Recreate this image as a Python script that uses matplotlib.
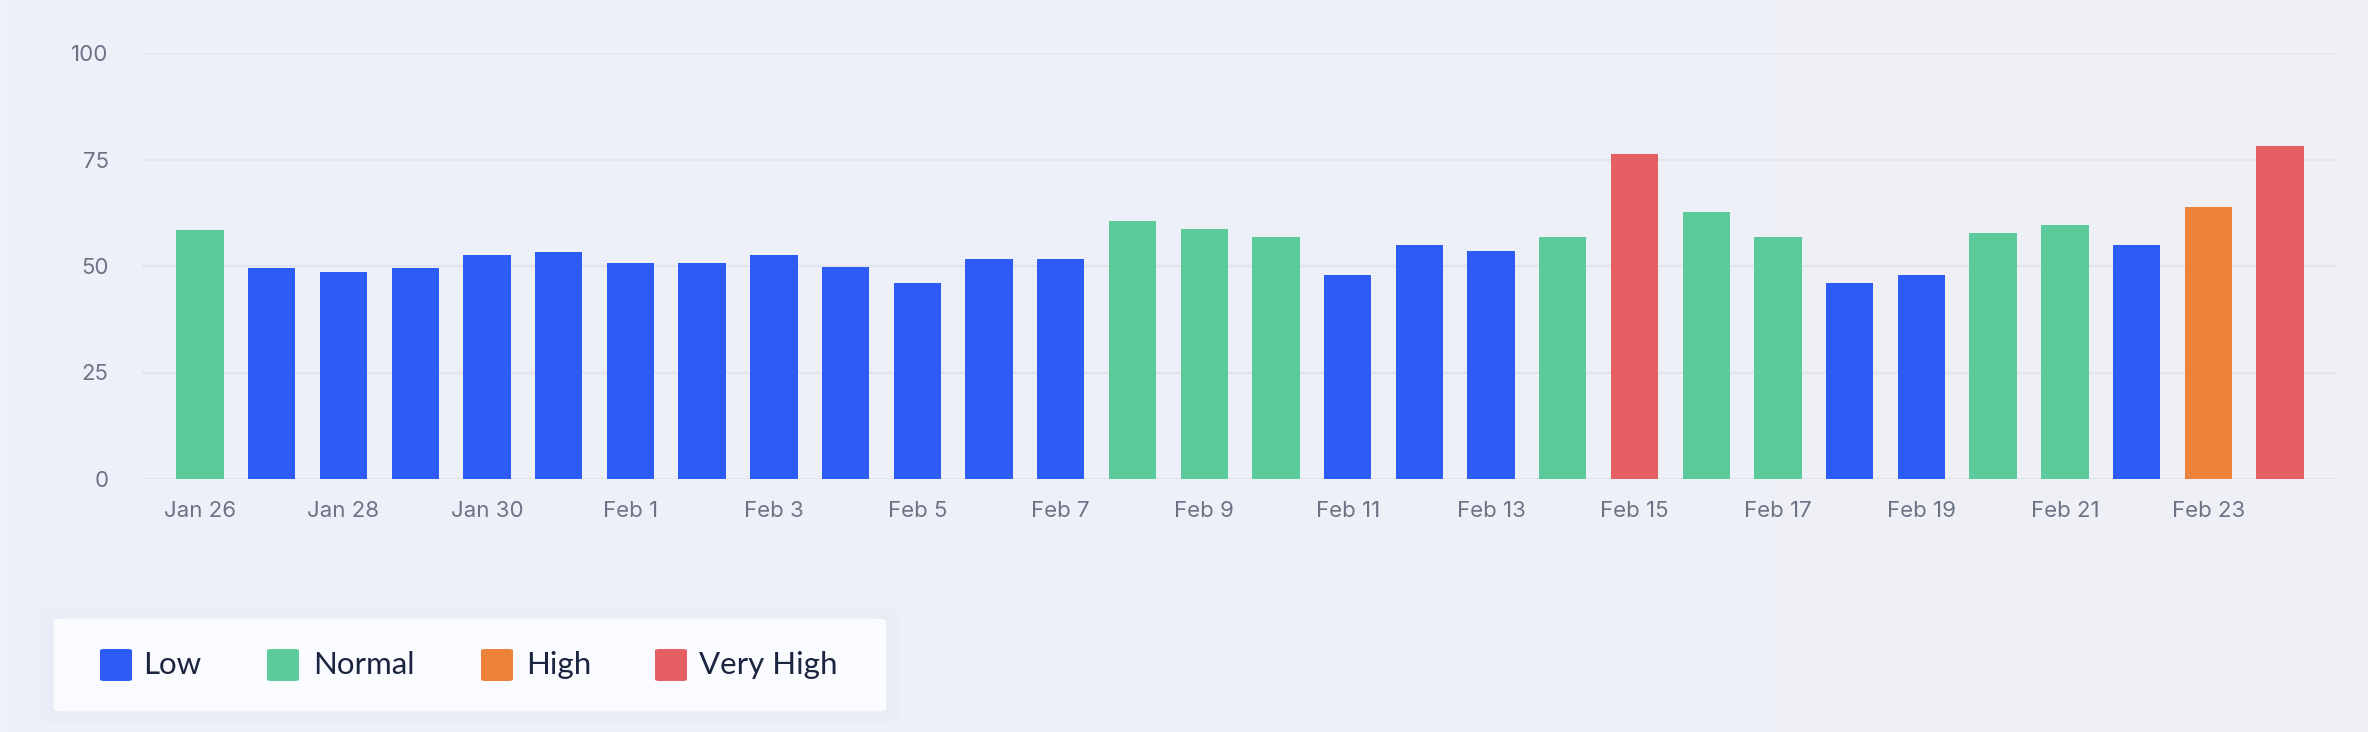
import matplotlib
matplotlib.use("Agg")
import matplotlib.pyplot as plt
import numpy as np
from matplotlib.patches import FancyBboxPatch
from matplotlib.colors import LinearSegmentedColormap

dates = ["Jan 26", "Jan 27", "Jan 28", "Jan 29", "Jan 30", "Jan 31",
         "Feb 1", "Feb 2", "Feb 3", "Feb 4", "Feb 5", "Feb 6", "Feb 7",
         "Feb 8", "Feb 9", "Feb 10", "Feb 11", "Feb 12", "Feb 13", "Feb 14",
         "Feb 15", "Feb 16", "Feb 17", "Feb 18", "Feb 19", "Feb 20", "Feb 21",
         "Feb 22", "Feb 23", "Feb 24"]
values = [58.5, 49.6, 48.7, 49.6, 52.5, 53.4, 50.6, 50.6, 52.5, 49.7,
          45.9, 51.6, 51.6, 60.6, 58.7, 56.8, 47.8, 54.9, 53.5, 56.8,
          76.3, 62.7, 56.8, 45.9, 47.8, 57.7, 59.6, 54.9, 63.9, 78.2]
levels = ["Normal", "Low", "Low", "Low", "Low", "Low", "Low", "Low", "Low", "Low",
          "Low", "Low", "Low", "Normal", "Normal", "Normal", "Low", "Low", "Low", "Normal",
          "Very High", "Normal", "Normal", "Low", "Low", "Normal", "Normal", "Low", "High", "Very High"]
legend_labels = ["Low", "Normal", "High", "Very High"]
level_colors = {"Low": "#2D5BF6", "Normal": "#5CCB9C", "High": "#ED823A", "Very High": "#E65F63"}
y_ticks = [0, 25, 50, 75, 100]

W, H = 2368, 732
fig = plt.figure(figsize=(W / 100, H / 100), dpi=100)

# background gradient
bg = fig.add_axes([0, 0, 1, 1], zorder=-10)
cmap = LinearSegmentedColormap.from_list("bg", ["#edf1fa", "#eff0f6"])
grad = np.linspace(0, 1, 256).reshape(1, -1)
bg.imshow(grad, aspect="auto", cmap=cmap, extent=[0, 1, 0, 1])
bg.set_axis_off()

ax = fig.add_axes([142 / W, 1 - 479 / H, (2336 - 142) / W, (479 - 53) / H])
ax.set_facecolor("none")
x = np.arange(len(dates))
ax.bar(x, values, width=0.66, color=[level_colors[l] for l in levels], zorder=3)
ax.set_xlim(-0.81, len(dates) - 1 + 0.78)
ax.set_ylim(0, 100)
ax.set_yticks(y_ticks)
ax.set_yticklabels([str(t) for t in y_ticks])
ax.set_xticks(x[::2])
ax.set_xticklabels(dates[::2])
for s in ax.spines.values():
    s.set_visible(False)
ax.grid(axis="y", color="#e2e4ea", linewidth=1.6, zorder=0)
ax.tick_params(axis="both", length=0, colors="#6b7385", labelsize=16)
ax.tick_params(axis="x", pad=16)
ax.tick_params(axis="y", pad=24)
for lab in ax.get_xticklabels() + ax.get_yticklabels():
    lab.set_fontfamily("Inter")

# legend box with soft shadow
for i, a in enumerate([0.025, 0.02, 0.015]):
    d = (3 - i) * 4
    sh = FancyBboxPatch(((53 - d) / W, 1 - (712 + d) / H), (887 - 53 + 2 * d) / W,
                        (712 - 618 + 2 * d) / H,
                        boxstyle="round,pad=0,rounding_size=0.006",
                        transform=fig.transFigure, facecolor="#b8c2dc",
                        edgecolor="none", alpha=a, zorder=4)
    fig.patches.append(sh)
box = FancyBboxPatch((53 / W, 1 - 712 / H), (887 - 53) / W, (712 - 618) / H,
                     boxstyle="round,pad=0,rounding_size=0.004",
                     transform=fig.transFigure, facecolor="#f9fbfe",
                     edgecolor="#e8ebf3", linewidth=0.8, zorder=5)
fig.patches.append(box)
sq_x = [100, 267, 481, 655]
tx_x = [143, 313, 526, 699]
for lab, sx, tx in zip(legend_labels, sq_x, tx_x):
    sq = FancyBboxPatch((sx / W, 1 - 681 / H), 32 / W, 32 / H,
                        boxstyle="round,pad=0,rounding_size=0.002",
                        transform=fig.transFigure, facecolor=level_colors[lab],
                        edgecolor="none", zorder=6)
    fig.patches.append(sq)
    fig.text(tx / W, 1 - 665 / H, lab, fontsize=22.5, color="#1b2540",
             family="Lato", va="center", ha="left", zorder=7)

fig.savefig("out.png", dpi=100)
